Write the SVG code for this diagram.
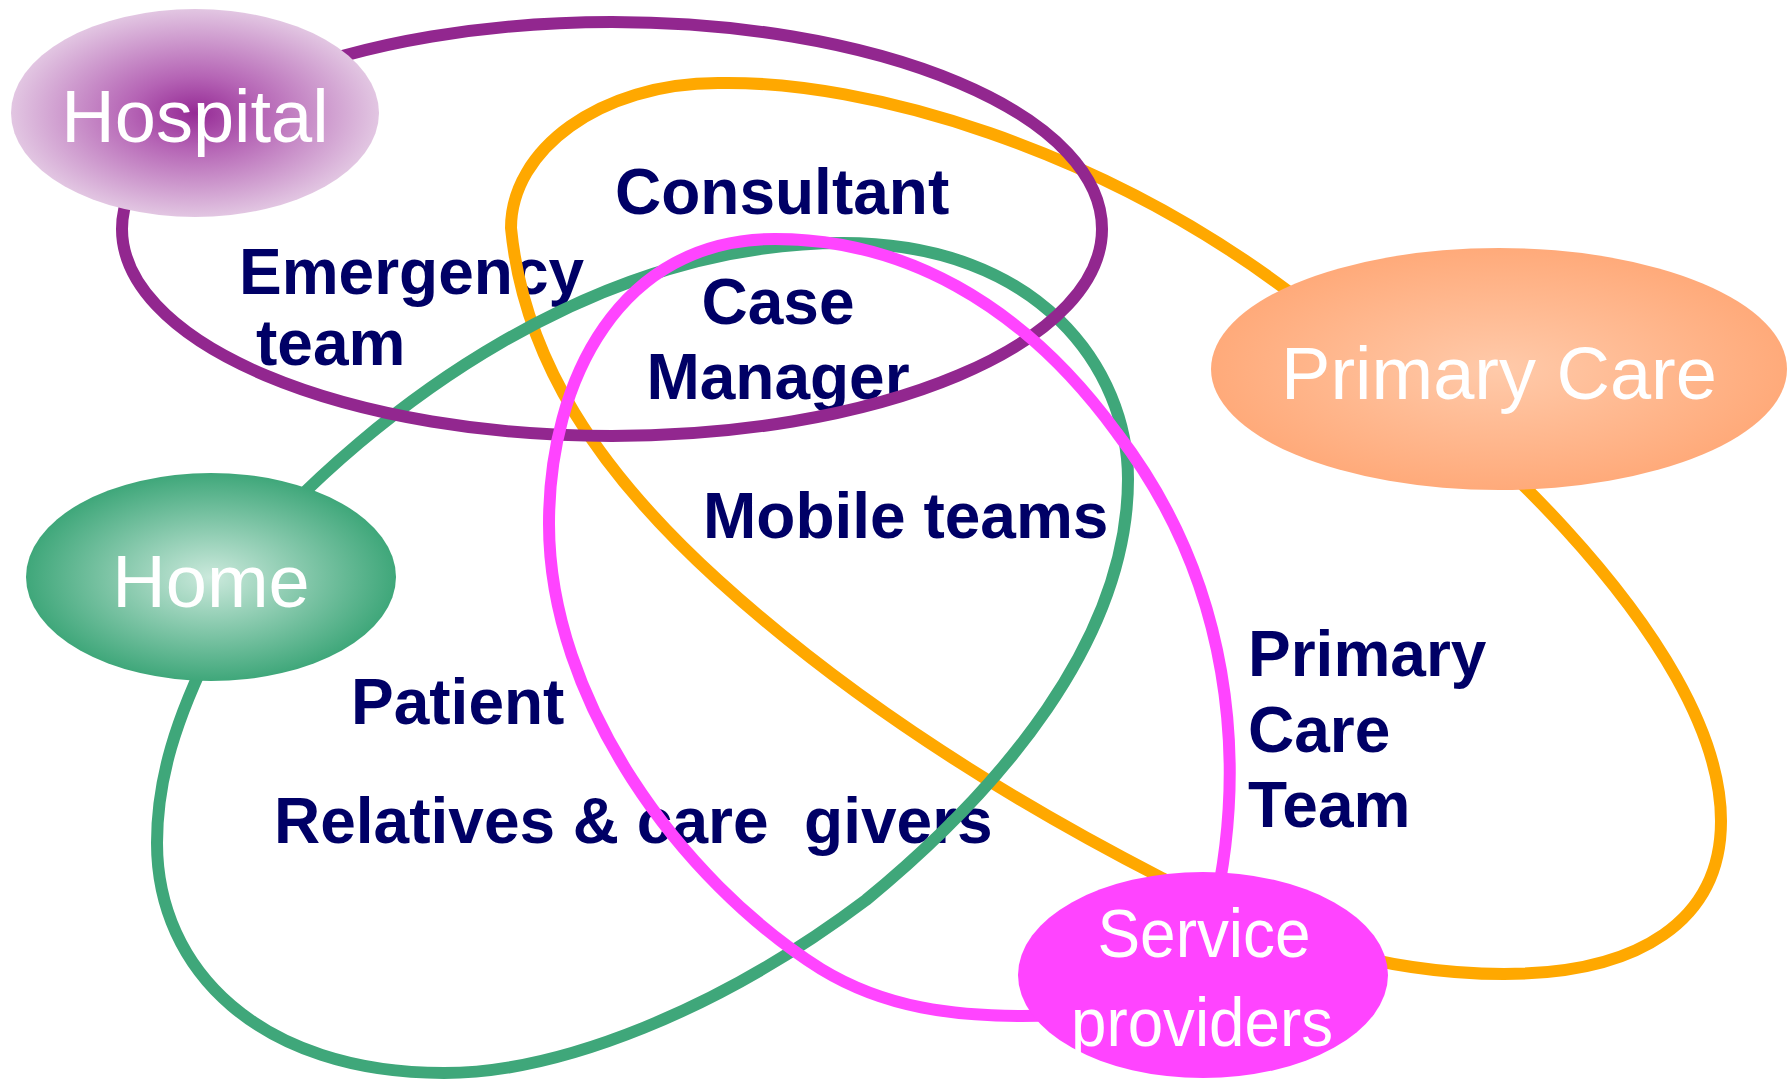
<svg xmlns="http://www.w3.org/2000/svg" width="1787" height="1081" viewBox="0 0 1787 1081">
<defs>
<radialGradient id="gHosp" cx="50%" cy="50%" r="50%"><stop offset="0" stop-color="#952A95"/><stop offset="0.35" stop-color="#B564B5"/><stop offset="1" stop-color="#E2C6E2"/></radialGradient>
<radialGradient id="gPC" cx="50%" cy="50%" r="50%"><stop offset="0" stop-color="#FFCAAA"/><stop offset="1" stop-color="#FFAA7A"/></radialGradient>
<radialGradient id="gHome" cx="50%" cy="50%" r="50%"><stop offset="0" stop-color="#CBE9DC"/><stop offset="1" stop-color="#3FA77A"/></radialGradient>
<style>
.loop{fill:none;stroke-width:12}
.lbl{font-family:"Liberation Sans",Arial,sans-serif;font-weight:bold;font-size:64px;fill:#000066;white-space:pre}
.nl{font-family:"Liberation Sans",Arial,sans-serif;font-size:74px;fill:#FFFFFF;text-anchor:middle}
</style>
</defs>
<rect width="1787" height="1081" fill="#FFFFFF"/>
<g id="labels">
<text class="lbl" x="615" y="214">Consultant</text>
<text class="lbl" x="239" y="294">Emergency</text>
<text class="lbl" x="256" y="365">team</text>
<text class="lbl" x="778" y="324" text-anchor="middle">Case</text>
<text class="lbl" x="778" y="399" text-anchor="middle">Manager</text>
<text class="lbl" x="703" y="538">Mobile teams</text>
<text class="lbl" x="351" y="724">Patient</text>
<text class="lbl" x="274" y="843" xml:space="preserve">Relatives &amp; care  givers</text>
<text class="lbl" x="1248" y="676">Primary</text>
<text class="lbl" x="1248" y="752">Care</text>
<text class="lbl" x="1248" y="827">Team</text>
</g>
<g id="connectors">
<path id="loop-primary" class="loop" stroke="#FFA800" d="M511,228 C511,150 600,83 718,83 C870,80 1100,150 1288,291 C1450,400 1721,640 1721,821 C1721,920 1640,974 1504,974 C1380,974 1260,935 1162,878 C1010,800 850,700 718,580 C598,471 524,360 511,228 Z"/>
<path id="loop-home" class="loop" stroke="#3FA77A" d="M240,560 C380,400 600,243 843,243 C1040,243 1128,370 1128,479 C1128,640 1000,790 866,900 C720,1010 560,1073 444,1073 C260,1073 157,970 157,843 C157,780 175,720 215,640"/>
<path id="loop-hospital" class="loop" stroke="#92278F" d="M122,229 A490,207 0 1,0 1102,229 A490,207 0 1,0 122,229 Z"/>
<path id="loop-service" class="loop" stroke="#FF44FF" d="M1212,920 C1250,760 1230,580 1117,433 C1020,300 900,239 775,239 C620,239 549,380 549,524 C549,700 680,880 821,969 C880,1005 950,1020 1060,1015"/>
</g>
<g id="node-hospital">
<ellipse cx="195" cy="113" rx="184" ry="104" fill="url(#gHosp)"/>
<text class="nl" x="195" y="142">Hospital</text>
</g>
<g id="node-primary-care">
<ellipse cx="1499" cy="369" rx="288" ry="121" fill="url(#gPC)"/>
<text class="nl" x="1499" y="399">Primary Care</text>
</g>
<g id="node-home">
<ellipse cx="211" cy="577" rx="185" ry="104" fill="url(#gHome)"/>
<text class="nl" x="211" y="607">Home</text>
</g>
<g id="node-service-providers">
<ellipse cx="1203" cy="975" rx="185" ry="103" fill="#FF44FF"/>
<text class="nl" x="1204" y="957" style="font-size:68px" textLength="213" lengthAdjust="spacingAndGlyphs">Service</text>
<text class="nl" x="1202" y="1046" style="font-size:68px" textLength="262" lengthAdjust="spacingAndGlyphs">providers</text>
</g>
</svg>
